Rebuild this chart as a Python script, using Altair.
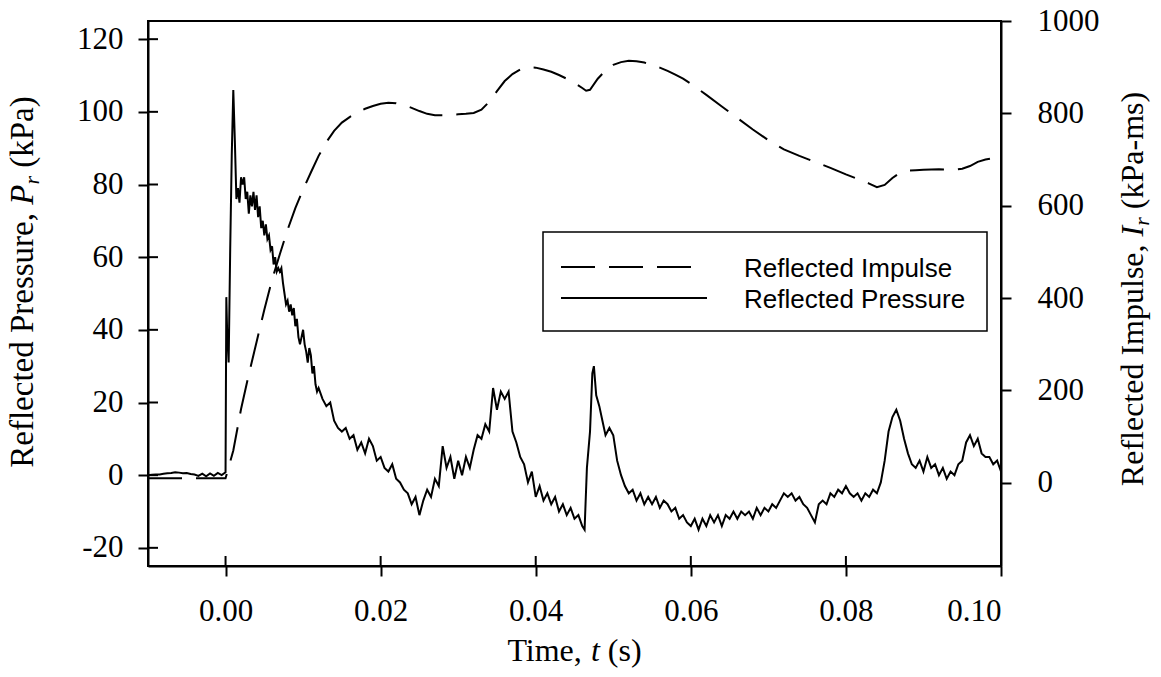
import altair as alt
import pandas as pd

# ---------------- data ----------------
pressure_time_s = [
    -0.0100, -0.0095, -0.0090, -0.0085, -0.0080, -0.0075, -0.0070, -0.0065, -0.0060, -0.0055,
    -0.0050, -0.0045, -0.0040, -0.0035, -0.0030, -0.0025, -0.0020, -0.0015, -0.0010, -0.0005,
    0.0000, 0.0001, 0.0002, 0.0004, 0.0006, 0.0008,
    0.0010, 0.0012, 0.0014, 0.0016, 0.0018, 0.0020, 0.0022, 0.0024, 0.0026, 0.0028,
    0.0030, 0.0032, 0.0034, 0.0036, 0.0038, 0.0040, 0.0042, 0.0044, 0.0046, 0.0048,
    0.0050, 0.0052, 0.0054, 0.0056, 0.0058, 0.0060, 0.0062, 0.0064, 0.0066, 0.0068,
    0.0070, 0.0072, 0.0074, 0.0076, 0.0078, 0.0080, 0.0082, 0.0084, 0.0086, 0.0088,
    0.0090, 0.0092, 0.0094, 0.0096, 0.0098, 0.0100, 0.0102, 0.0104, 0.0106, 0.0108,
    0.0110, 0.0112, 0.0114, 0.0116, 0.0118, 0.0120,
    0.0125, 0.0130, 0.0135, 0.0140, 0.0145, 0.0150, 0.0155, 0.0160, 0.0165, 0.0170,
    0.0175, 0.0180, 0.0185, 0.0190, 0.0195, 0.0200, 0.0205, 0.0210, 0.0215, 0.0220,
    0.0225, 0.0230, 0.0235, 0.0240, 0.0245, 0.0250, 0.0255, 0.0260, 0.0265, 0.0270,
    0.0275, 0.0280, 0.0285, 0.0290, 0.0295, 0.0300, 0.0305, 0.0310, 0.0315, 0.0320,
    0.0325, 0.0330, 0.0335, 0.0340, 0.0345, 0.0350, 0.0355, 0.0360, 0.0365, 0.0370,
    0.0375, 0.0380, 0.0385, 0.0390, 0.0395, 0.0400, 0.0405, 0.0410, 0.0415, 0.0420,
    0.0425, 0.0430, 0.0435, 0.0440, 0.0445, 0.0450, 0.0455, 0.0460, 0.0463, 0.0466,
    0.0470, 0.0473, 0.0475, 0.0478, 0.0482, 0.0486, 0.0490, 0.0495, 0.0500, 0.0505,
    0.0510, 0.0515, 0.0520, 0.0525, 0.0530, 0.0535, 0.0540, 0.0545, 0.0550, 0.0555,
    0.0560, 0.0565, 0.0570, 0.0575, 0.0580, 0.0585, 0.0590, 0.0595, 0.0600, 0.0605,
    0.0610, 0.0615, 0.0620, 0.0625, 0.0630, 0.0635, 0.0640, 0.0645, 0.0650, 0.0655,
    0.0660, 0.0665, 0.0670, 0.0675, 0.0680, 0.0685, 0.0690, 0.0695, 0.0700, 0.0705,
    0.0710, 0.0715, 0.0720, 0.0725, 0.0730, 0.0735, 0.0740, 0.0745, 0.0750, 0.0755,
    0.0760, 0.0765, 0.0770, 0.0775, 0.0780, 0.0785, 0.0790, 0.0795, 0.0800, 0.0805,
    0.0810, 0.0815, 0.0820, 0.0825, 0.0830, 0.0835, 0.0840, 0.0845, 0.0850, 0.0855,
    0.0860, 0.0865, 0.0870, 0.0875, 0.0880, 0.0885, 0.0890, 0.0895, 0.0900, 0.0905,
    0.0910, 0.0915, 0.0920, 0.0925, 0.0930, 0.0935, 0.0940, 0.0945, 0.0950, 0.0955,
    0.0960, 0.0965, 0.0970, 0.0975, 0.0980, 0.0985, 0.0990, 0.0995, 0.1000,
]
pressure_kpa = [
    0.0, 0.1, 0.2, 0.2, 0.4, 0.5, 0.6, 0.8, 0.7, 0.5,
    0.6, 0.3, 0.2, -0.2, 0.4, -0.3, 0.5, -0.2, 0.6, 0.0,
    0.8, 49, 40, 31, 62, 88,
    106, 92, 76, 79, 75, 82, 80, 82, 76, 78,
    72, 77, 74, 78, 73, 77, 71, 74, 68, 70,
    66, 69, 65, 66, 62, 63, 58, 60, 56, 57,
    56, 57, 53, 50, 47, 48, 45, 47, 44, 46,
    41, 43, 38, 36, 38, 40, 36, 34, 31, 35,
    33, 28, 30, 25, 23, 24,
    21, 19, 20, 15, 13, 12, 13, 10, 11, 7,
    9, 6, 10, 8, 4, 5, 2, 1, 3, -1,
    -2, -4, -5, -8, -6, -11, -7, -4, -6, -1,
    -3, 8, 2, 5, -1, 4, 0, 5, 2, 7,
    11, 10, 14, 12, 24, 18, 23, 21, 23, 12,
    9, 5, 3, -2, 1, -6, -3, -7, -5, -8,
    -6, -10, -8, -11, -9, -12, -11, -14, -15, 2,
    12, 28, 30, 22, 19, 15, 11, 13, 11, 4,
    0, -3, -5, -4, -7, -5, -8, -6, -8, -6,
    -9, -7, -8, -10, -9, -12, -11, -13, -14, -12,
    -15, -12, -14, -11, -13, -11, -14, -11, -12, -10,
    -12, -10, -11, -10, -12, -9, -11, -9, -10, -8,
    -9, -7, -5, -6, -5, -7, -6, -8, -9, -11,
    -13, -8, -7, -8, -5, -6, -4, -5, -3, -5,
    -6, -5, -7, -5, -6, -4, -5, -2, 4, 12,
    16, 18, 15, 10, 6, 3, 2, 4, 1, 5,
    2, 3, 0, 2, -1, 1, 0, 3, 4, 9,
    11, 8, 10, 6, 5, 5, 3, 4, 1,
]

impulse_time_s = [
    -0.010, -0.005, 0.000, 0.001, 0.002, 0.003, 0.004, 0.005, 0.006, 0.007,
    0.008, 0.009, 0.010, 0.011, 0.012, 0.013, 0.014, 0.015, 0.016, 0.017,
    0.018, 0.019, 0.020, 0.021, 0.022, 0.023, 0.024, 0.025, 0.026, 0.027,
    0.028, 0.029, 0.030, 0.031, 0.032, 0.033, 0.034, 0.035, 0.036, 0.037,
    0.038, 0.039, 0.040, 0.041, 0.042, 0.043, 0.044, 0.045, 0.046, 0.0465,
    0.047, 0.048, 0.049, 0.050, 0.051, 0.052, 0.053, 0.054, 0.055, 0.056,
    0.057, 0.058, 0.059, 0.060, 0.062, 0.064, 0.066, 0.068, 0.070, 0.072,
    0.074, 0.076, 0.078, 0.080, 0.082, 0.083, 0.084, 0.085, 0.086, 0.087,
    0.088, 0.089, 0.090, 0.092, 0.094, 0.095, 0.096, 0.097, 0.098, 0.099,
    0.100,
]
impulse_kpa_ms = [
    10, 10, 10, 70, 160, 235, 305, 375, 440, 495,
    548, 595, 635, 672, 708, 738, 762, 780, 792, 802,
    810, 816, 821, 823, 822, 818, 812, 805, 799, 796,
    796, 797, 798, 799, 801, 808, 825, 848, 870, 885,
    895, 900, 899, 895, 890, 883, 875, 866, 855, 849,
    851, 875, 893, 905, 911, 914, 913, 910, 905, 899,
    892, 884, 875, 864, 840, 815, 790, 765, 742, 722,
    708, 695, 682, 668, 655, 648, 640, 645, 660, 672,
    676, 677, 678, 679, 678, 680, 686, 695, 700, 703,
    705,
]

x_tick_values = [0.00, 0.02, 0.04, 0.06, 0.08, 0.10]
p_tick_values = [-20, 0, 20, 40, 60, 80, 100, 120]
i_tick_values = [0, 200, 400, 600, 800, 1000]

legend_labels = ["Reflected Impulse", "Reflected Pressure"]

# ---------------- layout ----------------
W, H = 853, 545
SERIF = "Liberation Serif"
SANS = "Liberation Sans"

df_p = pd.DataFrame({"t": pressure_time_s, "p": pressure_kpa})
df_i = pd.DataFrame({"t": impulse_time_s, "imp": impulse_kpa_ms})

xs = alt.Scale(domain=[-0.01, 0.10], nice=False, zero=False)
ys_p = alt.Scale(domain=[-25, 125], nice=False, zero=False)
ys_i = alt.Scale(domain=[-180, 1000], nice=False, zero=False)

axis_common = dict(
    domainColor="black", domainWidth=2, tickColor="black", tickWidth=2,
    tickSize=10, labelFont=SERIF, labelFontSize=31, labelColor="black",
    grid=False, title=None,
)
x_axis = alt.Axis(values=x_tick_values, format=".2f", labelPadding=20, **axis_common)
yl_axis = alt.Axis(values=p_tick_values, labelExpr="'' + datum.value",
                   labelPadding=15, orient="left", **axis_common)
yr_axis = alt.Axis(values=i_tick_values, labelExpr="'' + datum.value",
                   labelPadding=26, orient="right", **axis_common)

X = alt.X("t:Q", scale=xs, axis=x_axis)

pressure_line = alt.Chart(df_p).mark_line(color="black", strokeWidth=2).encode(
    x=X, y=alt.Y("p:Q", scale=ys_p, axis=yl_axis)
)

# inner halves of the crossing ticks (left and bottom axes)
left_inner = alt.Chart(pd.DataFrame({"v": p_tick_values})).mark_rule(
    color="black", strokeWidth=2
).encode(y=alt.Y("v:Q", scale=ys_p, axis=yl_axis), x=alt.value(0), x2=alt.value(10))

bottom_inner = alt.Chart(pd.DataFrame({"tv": x_tick_values})).mark_rule(
    color="black", strokeWidth=2
).encode(x=alt.X("tv:Q", scale=xs, axis=x_axis), y=alt.value(H), y2=alt.value(H - 10))

left_group = alt.layer(pressure_line, left_inner, bottom_inner)

impulse_line = alt.Chart(df_i).mark_line(
    color="black", strokeWidth=2, strokeDash=[34, 14]
).encode(x=X, y=alt.Y("imp:Q", scale=ys_i, axis=yr_axis))

one = pd.DataFrame({"k": [0]})

# ---- legend ----
legend_box = alt.Chart(one).mark_rect(fill="white", stroke="black", strokeWidth=1.5).encode(
    x=alt.value(395), x2=alt.value(839), y=alt.value(211), y2=alt.value(310)
)
legend_dash = alt.Chart(one).mark_rule(color="black", strokeWidth=2, strokeDash=[34, 14]).encode(
    x=alt.value(413), x2=alt.value(549), y=alt.value(246)
)
legend_solid = alt.Chart(one).mark_rule(color="black", strokeWidth=2).encode(
    x=alt.value(413), x2=alt.value(559), y=alt.value(277)
)


def txt(text, x, y, size, font, italic=False, angle=0):
    return alt.Chart(pd.DataFrame({"s": [text]})).mark_text(
        font=font, fontSize=size, fontStyle="italic" if italic else "normal",
        align="left", baseline="alphabetic", angle=angle, color="black",
    ).encode(text="s:N", x=alt.value(x), y=alt.value(y))


legend_t1 = txt(legend_labels[0], 596, 256, 26, SANS)
legend_t2 = txt(legend_labels[1], 596, 287, 26, SANS)

# ---- axis titles built from pieces (italic symbols, subscripts) ----
TW = {" ": 250, "(": 333, ")": 333, ",": 250, "-": 333, "I": 333, "P": 556, "R": 667,
      "T": 611, "a": 444, "c": 444, "d": 500, "e": 444, "f": 333, "i": 278, "k": 500,
      "l": 278, "m": 778, "p": 500, "r": 333, "s": 389, "t": 278, "u": 500}
TWI = {"P": 611, "I": 333, "r": 389, "t": 278}


def tw(s, size, italic=False):
    tab = TWI if italic else TW
    return sum(tab[c] for c in s) * size / 1000.0


SUB = 22


def lead_space(s, sz):
    n = len(s) - len(s.lstrip(" "))
    return n * 250 * sz / 1000.0


def horizontal_title(pieces, cx, y):
    total = sum(tw(s, sz, it) for s, it, sz, sh in pieces)
    x = cx - total / 2
    out = []
    for s, it, sz, sh in pieces:
        out.append(txt(s.strip(), x + lead_space(s, sz), y + sh, sz, SERIF, it))
        x += tw(s, sz, it)
    return out


def vertical_title(pieces, bx, cy):
    total = sum(tw(s, sz, it) for s, it, sz, sh in pieces)
    y = cy + total / 2
    out = []
    for s, it, sz, sh in pieces:
        out.append(txt(s.strip(), bx + sh, y - lead_space(s, sz), sz, SERIF, it, angle=270))
        y -= tw(s, sz, it)
    return out


x_title = horizontal_title(
    [("Time, ", False, 32, 0), ("t", True, 32, 0), (" (s)", False, 32, 0)], W / 2, 640
)
yl_title = vertical_title(
    [("Reflected Pressure, ", False, 33, 0), ("P", True, 33, 0), ("r", True, SUB, 6),
     (" (kPa)", False, 33, 0)], -115, 261
)
yr_title = vertical_title(
    [("Reflected Impulse, ", False, 32, 0), ("I", True, 32, 0), ("r", True, SUB, 6),
     (" (kPa-ms)", False, 32, 0)], 995, 268
)

chart = alt.layer(
    left_group, impulse_line, legend_box, legend_dash, legend_solid, legend_t1, legend_t2,
    *x_title, *yl_title, *yr_title,
).resolve_scale(y="independent").properties(
    width=W, height=H,
    autosize=alt.AutoSizeParams(type="none"),
    padding={"left": 148, "top": 21, "right": 160, "bottom": 111},
    background="white",
).configure_view(stroke="black", strokeWidth=2)

chart.save("out.html", embed_options={"renderer": "svg", "actions": False})
